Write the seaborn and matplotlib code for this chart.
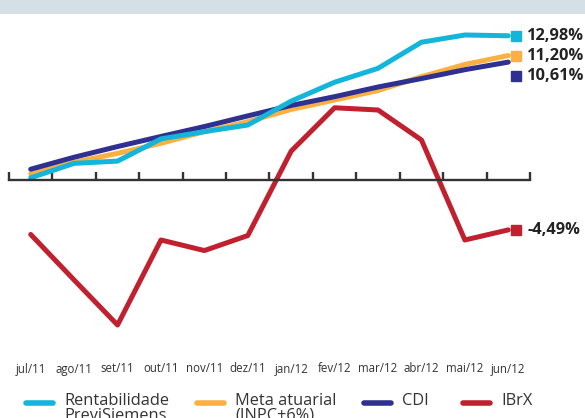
import numpy as np
import pandas as pd
import matplotlib.pyplot as plt
import matplotlib.transforms as mtransforms
from matplotlib.lines import Line2D
from matplotlib.patches import Rectangle
import seaborn as sns

meses = ['jul/11', 'ago/11', 'set/11', 'out/11', 'nov/11', 'dez/11',
         'jan/12', 'fev/12', 'mar/12', 'abr/12', 'mai/12', 'jun/12']
rentabilidade = [0.2, 1.5, 1.7, 3.7, 4.35, 4.95, 7.1, 8.8, 10.05, 12.4, 13.05, 12.98]
meta_atuarial = [0.55, 1.6, 2.4, 3.3, 4.35, 5.25, 6.35, 7.2, 8.05, 9.3, 10.4, 11.20]
cdi = [0.97, 2.05, 3.01, 3.92, 4.81, 5.77, 6.71, 7.5, 8.37, 9.13, 9.93, 10.61]
ibrx = [-4.9, -9.0, -13.05, -5.4, -6.35, -5.0, 2.6, 6.5, 6.3, 3.6, -5.4, -4.49]

series = ['Rentabilidade\nPreviSiemens', 'Meta atuarial\n(INPC+6%)', 'CDI', 'IBrX']
valores = [rentabilidade, meta_atuarial, cdi, ibrx]
cores = ['#13B5DA', '#FBB040', '#2E3192', '#C1202F']
rotulos = ['12,98%', '11,20%', '10,61%', '-4,49%']
desloc = [0, 0, -10, 0]  # points, keeps the end labels apart

df = pd.concat([pd.DataFrame({'idx': np.arange(len(meses)), 'valor': v, 'serie': s})
                for s, v in zip(series, valores)], ignore_index=True)

sns.set_style('white')
plt.rcParams['font.family'] = ['Open Sans', 'DejaVu Sans']

W, H = 585, 418
fig = plt.figure(figsize=(W / 100, H / 100), dpi=100)
fig.patches.append(Rectangle((0, 1 - 13.5 / H), 1, 13.5 / H, transform=fig.transFigure,
                             facecolor='#D5E0E6', edgecolor='none', zorder=0))

ax = fig.add_axes([9 / W, 68 / H, 521 / W, 330 / H])
ax.patch.set_alpha(0)

paleta = dict(zip(series, cores))
ordem = [series[1], series[2], series[0], series[3]]
sns.lineplot(data=df, x='idx', y='valor', hue='serie', hue_order=ordem, palette=paleta,
             linewidth=3.6, legend=False, ax=ax, solid_capstyle='round')

ax.set_xlim(-0.5, 11.5)
ax.set_ylim(-15.3, 14.4)
ax.set_xlabel('')
ax.set_ylabel('')
ax.set_yticks([])

for sp in ['left', 'right', 'bottom']:
    ax.spines[sp].set_visible(False)
ax.spines['top'].set_position(('data', 0))
ax.spines['top'].set_color('#333333')
ax.spines['top'].set_linewidth(1.7)

ax.set_xticks(np.arange(len(meses)))
ax.set_xticklabels(meses, fontsize=8.3, color='#333333')
ax.set_xticks(np.arange(-0.5, 12, 1), minor=True)
ax.tick_params(axis='x', which='major', bottom=True, top=False, length=0, pad=9)
ax.tick_params(axis='x', which='minor', bottom=False, top=True, direction='out',
               length=5.5, width=1.7, color='#333333')

# squares and values at the end of each line
for v, c, r, d in zip(valores, cores, rotulos, desloc):
    x_fim, y_fim = len(meses) - 1, v[-1]
    tr = ax.transData + mtransforms.ScaledTranslation(8 / 100, d / 72, fig.dpi_scale_trans)
    ax.plot([x_fim], [y_fim], marker='s', markersize=6.5, color=c, transform=tr, clip_on=False)
    ax.annotate(r, (x_fim, y_fim), xytext=(13.5, d), textcoords='offset points',
                ha='left', va='center', fontsize=11.8, fontweight='bold', color='#222222',
                annotation_clip=False)

# legend along the bottom, the second text line runs off the edge like the original
leg_x = [26, 197, 364, 463]
for x0, c, s in zip(leg_x, cores, series):
    fig.add_artist(Line2D([x0 / W, (x0 + 27) / W], [1 - 403 / H] * 2, color=c,
                          linewidth=4, solid_capstyle='round', transform=fig.transFigure))
    for k, linha in enumerate(s.split('\n')):
        fig.text((x0 + 38) / W, 1 - (405 + 15 * k) / H, linha, fontsize=11.8,
                 color='#333333', va='baseline', ha='left')

plt.savefig('out.png', dpi=100)
